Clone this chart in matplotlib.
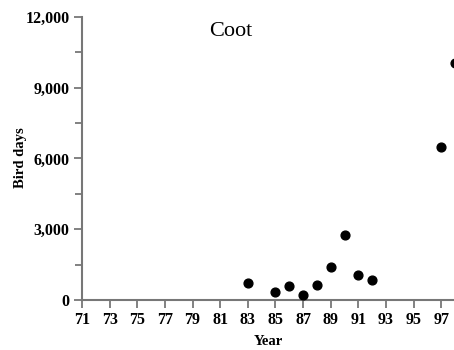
import matplotlib
matplotlib.use("Agg")
import matplotlib.pyplot as plt
from matplotlib.ticker import FuncFormatter, MultipleLocator

years = [83, 85, 86, 87, 88, 89, 90, 91, 92, 97, 98]
bird_days = [700, 320, 610, 210, 630, 1400, 2740, 1070, 830, 6480, 10050]
xticks = list(range(71, 98, 2))
yticks = [0, 3000, 6000, 9000, 12000]

SERIF = 'Liberation Serif'
plt.rcParams['font.family'] = [SERIF, 'DejaVu Serif']
plt.rcParams['font.weight'] = 'bold'

W, H = 454, 350
fig = plt.figure(figsize=(W / 100, H / 100), dpi=100)
ax = fig.add_axes([82 / W, 50 / H, (W - 82) / W, 283 / H])

grey = '#777777'

ax.scatter(years, bird_days, s=40, color='black', zorder=3, clip_on=True)

ax.set_xlim(71, 97.92)
ax.set_ylim(0, 12000)
ax.set_xticks(xticks)
ax.set_yticks(yticks)
ax.yaxis.set_minor_locator(MultipleLocator(1500))
ax.yaxis.set_major_formatter(FuncFormatter(lambda v, p: f"{int(v):,}"))

for s in ['top', 'right']:
    ax.spines[s].set_visible(False)
for s in ['left', 'bottom']:
    ax.spines[s].set_color(grey)
    ax.spines[s].set_linewidth(1.5)

ax.tick_params(axis='both', which='major', color=grey, width=1.3, length=6,
               labelsize=11.5, pad=3)
ax.tick_params(axis='y', which='minor', color=grey, width=1.3, length=5)

ax.set_xlabel('Year', family=SERIF, weight='bold', fontsize=10.5, labelpad=5)
ax.set_ylabel('Bird days', family=SERIF, weight='bold', fontsize=10.5)
ax.yaxis.set_label_coords(-0.148, 0.502)
fig.text(231 / W, 1 - 31 / H, 'Coot', family=SERIF, weight='normal',
         fontsize=16, ha='center', va='center')

fig.savefig('out.png', dpi=100)
